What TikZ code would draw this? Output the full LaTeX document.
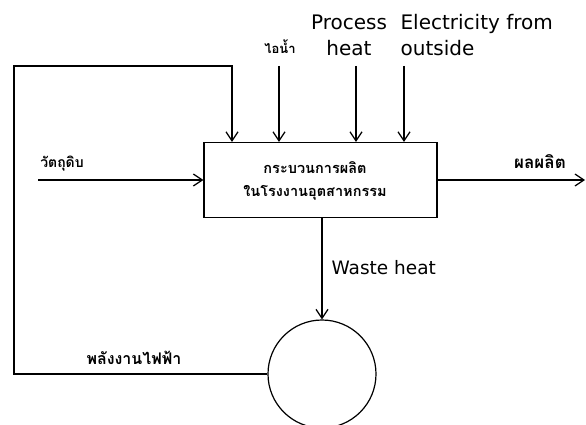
\documentclass[tikz,border=0pt]{standalone}
\usepackage{fontspec}
\setmainfont{DejaVu Sans}
\newfontfamily\thai[Script=Thai]{Loma}
\usetikzlibrary{arrows.meta}

\begin{document}
\begin{tikzpicture}[x=1pt,y=-1pt,line width=1.2pt,
    >={Straight Barb[length=9pt,width=12pt]},
    lbl/.style={inner sep=0pt,font=\fontsize{20}{26}\selectfont},
    thlbl/.style={inner sep=0pt,font=\thai\bfseries\fontsize{#1}{18}\selectfont},
    thlbl/.default=14]
      \useasboundingbox (0,0) rectangle (586,425);
      \node[draw,minimum width=233pt,minimum height=75pt,inner sep=0pt] (proc) at (320.5,180){};
      \node[inner sep=0pt,align=center,font=\thai\bfseries\fontsize{14.5}{23}\selectfont]
            (proctxt) at (315,181){กระบวนการผลิต\\ในโรงงานอุตสาหกรรม};
      \node[draw,circle,minimum size=108pt,inner sep=0pt] (gen) at (322,374){};
      \coordinate (loop) at (14,66);
      \coordinate (fb) at (232,66);
      \coordinate (steam) at (279,66);
      \coordinate (heat) at (356,66);
      \coordinate (elec) at (404,66);
      \coordinate (rawin) at (38,180);
      \coordinate (out) at (585,180);
      \draw[->](gen.west) -| (loop) -- (fb) -- (fb |- proc.north);
      \foreach \c in {steam,heat,elec}{\draw[->](\c) -- (\c |- proc.north);}
      \draw[->](rawin) -- (proc.west);
      \draw[->](proc.east) -- (out);
      \draw[->](gen.north |- proc.south) -- (gen.north);
      \node[thlbl] (rawlbl) at (62,164){วัตถุดิบ};
      \node[thlbl=17] (outlbl) at (540,162){ผลผลิต};
      \node[thlbl=13] (steamlbl) at (280,47){ไอน้ำ};
      \node[lbl,align=center] (heatlbl) at (349,35){Process\\heat};
      \node[lbl,align=left,anchor=west] (eleclbl) at (400,35){Electricity from\\outside};
      \node[lbl,anchor=west,font=\fontsize{18.5}{22}\selectfont] (wastelbl) at (331,268){Waste heat};
      \node[thlbl=16] (powerlbl) at (134,358){พลังงานไฟฟ้า};
    \end{tikzpicture}
\end{document}
